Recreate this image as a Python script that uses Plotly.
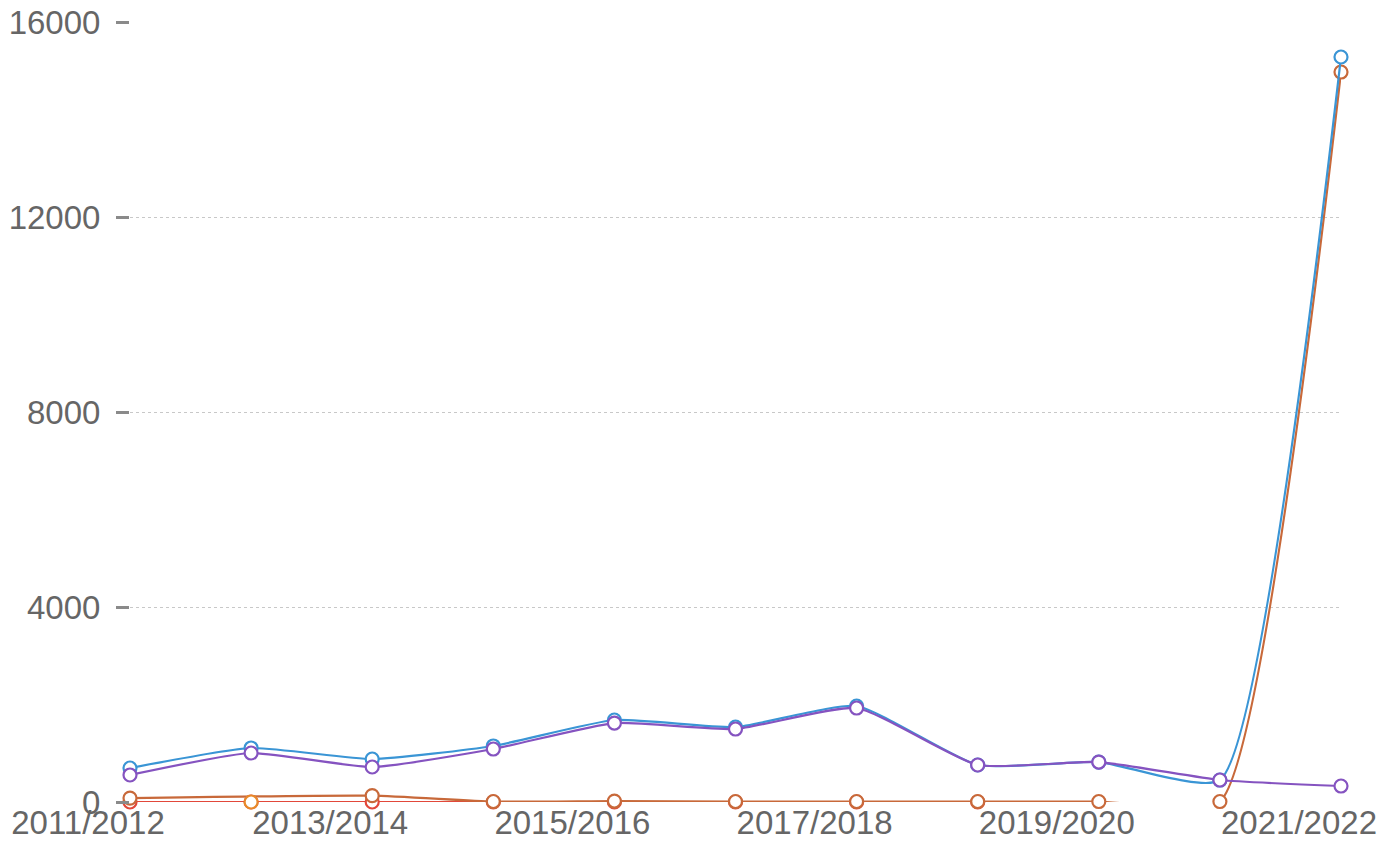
import plotly.graph_objects as go

categories = ["2011/2012", "2012/2013", "2013/2014", "2014/2015", "2015/2016", "2016/2017",
              "2017/2018", "2018/2019", "2019/2020", "2020/2021", "2021/2022"]
tick_labels = ["2011/2012", "2013/2014", "2015/2016", "2017/2018", "2019/2020", "2021/2022"]
y_ticks = [0, 4000, 8000, 12000, 16000]

blue_vals = [697, 1108, 882, 1149, 1682, 1538, 1969, 759, 820, 451, 15282]
purple_vals = [554, 1005, 718, 1087, 1620, 1497, 1928, 759, 820, 451, 328]
red_vals = [0, 0, 0, 0, 0, 0, 0, 0, None, None, None]
orange_vals = [None, 0, None, None, None, None, None, None, None, None, None]
brown_vals = [80, None, 130, 10, 20, 10, 10, 10, 10, 10, 14974]

series = [
    ("red", red_vals, "#e2483a"),
    ("brown", brown_vals, "#c8693a"),
    ("orange", orange_vals, "#e8892a"),
    ("blue", blue_vals, "#3a95d5"),
    ("purple", purple_vals, "#8553c0"),
]

fig = go.Figure()
for name, vals, color in series:
    fig.add_trace(go.Scatter(
        x=categories, y=vals, name=name, mode="lines+markers",
        connectgaps=True,
        line=dict(color=color, width=2.2, shape="spline", smoothing=0.5),
        marker=dict(symbol="circle", size=13, color="white", line=dict(color=color, width=2.2)),
        cliponaxis=False,
    ))

fig.update_layout(
    width=1395, height=868,
    margin=dict(l=122, r=62, t=14, b=74),
    paper_bgcolor="white", plot_bgcolor="white",
    showlegend=False,
    font=dict(family="Liberation Sans, Arial, sans-serif", size=33, color="#666666"),
)
fig.update_xaxes(
    type="category", range=[0, 10], automargin=False,
    tickmode="array", tickvals=tick_labels, ticktext=tick_labels,
    showgrid=False, showline=False, zeroline=False, ticks="",
    ticklabelshift=-42, ticklabelstandoff=-2, ticklabeloverflow="allow",
)
fig.update_yaxes(
    range=[0, 16000], automargin=False,
    tickmode="array", tickvals=y_ticks, ticktext=[str(v) for v in y_ticks],
    showgrid=True, gridcolor="#c8c8c8", griddash="dot", gridwidth=1,
    zeroline=False, showline=False,
    ticks="outside", ticklen=13, tickwidth=3, tickcolor="#8a8a8a",
    ticklabelstandoff=9, ticklabeloverflow="allow",
)

fig.write_html("out.html")
